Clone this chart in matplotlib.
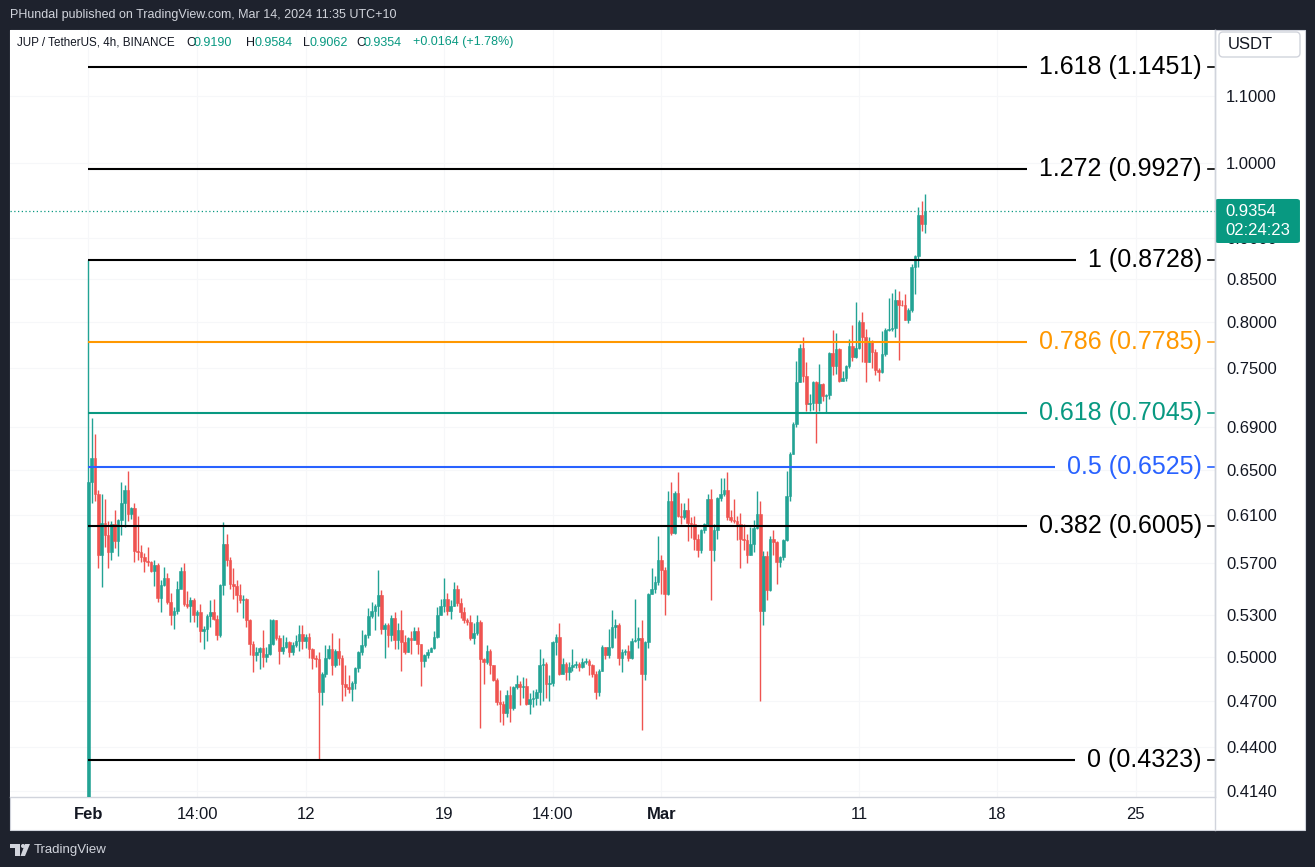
import numpy as np
import matplotlib.pyplot as plt
import matplotlib.transforms as mtransforms
from matplotlib.patches import Rectangle, FancyBboxPatch, Polygon, Circle
from matplotlib.lines import Line2D
from matplotlib.ticker import FixedLocator, NullLocator

plt.rcParams['font.family'] = ['Liberation Sans', 'DejaVu Sans']

# JUP / USDT, 4h candles (Binance); opens follow the previous close
first_open = 0.400
closes = [
    0.639, 0.661, 0.628, 0.577, 0.603, 0.593, 0.579, 0.602, 0.588, 0.606,
    0.620, 0.632, 0.611, 0.616, 0.580, 0.579, 0.575, 0.572, 0.571, 0.564,
    0.569, 0.543, 0.553, 0.558, 0.540, 0.530, 0.533, 0.550, 0.564, 0.538,
    0.537, 0.541, 0.530, 0.532, 0.518, 0.520, 0.529, 0.532, 0.527, 0.515,
    0.553, 0.586, 0.573, 0.554, 0.552, 0.545, 0.541, 0.542, 0.526, 0.509,
    0.501, 0.503, 0.506, 0.500, 0.502, 0.509, 0.526, 0.513, 0.504, 0.507,
    0.510, 0.503, 0.508, 0.511, 0.516, 0.511, 0.514, 0.505, 0.499, 0.498,
    0.476, 0.488, 0.499, 0.505, 0.494, 0.504, 0.499, 0.481, 0.479, 0.478,
    0.482, 0.492, 0.503, 0.508, 0.515, 0.529, 0.533, 0.537, 0.545, 0.520,
    0.523, 0.515, 0.528, 0.512, 0.519, 0.510, 0.503, 0.513, 0.512, 0.518,
    0.509, 0.497, 0.501, 0.503, 0.506, 0.514, 0.530, 0.537, 0.542, 0.533,
    0.537, 0.550, 0.539, 0.532, 0.526, 0.525, 0.513, 0.517, 0.525, 0.498,
    0.496, 0.504, 0.494, 0.484, 0.469, 0.468, 0.462, 0.474, 0.465, 0.479,
    0.481, 0.479, 0.480, 0.468, 0.471, 0.472, 0.476, 0.494, 0.495, 0.481,
    0.482, 0.510, 0.514, 0.488, 0.495, 0.489, 0.493, 0.494, 0.495, 0.493,
    0.496, 0.497, 0.494, 0.488, 0.476, 0.490, 0.507, 0.501, 0.507, 0.521,
    0.523, 0.499, 0.503, 0.504, 0.499, 0.511, 0.512, 0.513, 0.488, 0.510,
    0.546, 0.550, 0.555, 0.573, 0.565, 0.546, 0.622, 0.595, 0.629, 0.609,
    0.608, 0.614, 0.603, 0.602, 0.590, 0.581, 0.597, 0.602, 0.624, 0.581,
    0.597, 0.625, 0.628, 0.632, 0.608, 0.606, 0.605, 0.602, 0.590, 0.589,
    0.577, 0.586, 0.599, 0.611, 0.533, 0.576, 0.549, 0.590, 0.587, 0.571,
    0.575, 0.589, 0.627, 0.665, 0.693, 0.735, 0.772, 0.742, 0.713, 0.714,
    0.735, 0.714, 0.733, 0.721, 0.722, 0.766, 0.752, 0.770, 0.736, 0.740,
    0.752, 0.774, 0.762, 0.772, 0.800, 0.783, 0.756, 0.778, 0.767, 0.748,
    0.746, 0.765, 0.791, 0.792, 0.794, 0.825, 0.820, 0.819, 0.803, 0.814,
    0.864, 0.878, 0.930, 0.919, 0.9354,
]
highs = [
    0.8728, 0.699, 0.684, 0.632, 0.628, 0.624, 0.605, 0.605, 0.614, 0.607,
    0.639, 0.636, 0.649, 0.617, 0.620, 0.609, 0.585, 0.578, 0.583, 0.572,
    0.573, 0.570, 0.557, 0.567, 0.562, 0.547, 0.536, 0.556, 0.567, 0.570,
    0.548, 0.544, 0.543, 0.534, 0.538, 0.522, 0.531, 0.541, 0.542, 0.530,
    0.554, 0.604, 0.594, 0.575, 0.566, 0.557, 0.554, 0.545, 0.543, 0.527,
    0.511, 0.507, 0.507, 0.519, 0.507, 0.527, 0.527, 0.526, 0.515, 0.515,
    0.514, 0.511, 0.510, 0.515, 0.523, 0.523, 0.516, 0.517, 0.506, 0.501,
    0.503, 0.489, 0.508, 0.508, 0.517, 0.505, 0.513, 0.501, 0.494, 0.487,
    0.483, 0.493, 0.504, 0.519, 0.516, 0.535, 0.540, 0.538, 0.565, 0.549,
    0.524, 0.524, 0.530, 0.532, 0.524, 0.534, 0.515, 0.514, 0.518, 0.521,
    0.521, 0.509, 0.502, 0.505, 0.507, 0.518, 0.536, 0.542, 0.558, 0.547,
    0.541, 0.555, 0.553, 0.543, 0.536, 0.528, 0.530, 0.524, 0.530, 0.526,
    0.499, 0.508, 0.505, 0.494, 0.485, 0.477, 0.470, 0.477, 0.480, 0.480,
    0.487, 0.483, 0.486, 0.485, 0.475, 0.477, 0.478, 0.505, 0.499, 0.496,
    0.487, 0.511, 0.516, 0.524, 0.499, 0.496, 0.496, 0.505, 0.497, 0.496,
    0.499, 0.499, 0.498, 0.495, 0.490, 0.491, 0.508, 0.507, 0.520, 0.534,
    0.527, 0.524, 0.505, 0.505, 0.508, 0.513, 0.542, 0.521, 0.526, 0.511,
    0.547, 0.566, 0.560, 0.592, 0.577, 0.567, 0.631, 0.639, 0.631, 0.648,
    0.620, 0.620, 0.625, 0.608, 0.609, 0.594, 0.598, 0.603, 0.628, 0.633,
    0.602, 0.626, 0.643, 0.643, 0.648, 0.614, 0.624, 0.609, 0.612, 0.602,
    0.594, 0.600, 0.606, 0.631, 0.622, 0.580, 0.580, 0.592, 0.597, 0.588,
    0.576, 0.590, 0.649, 0.667, 0.695, 0.757, 0.776, 0.784, 0.756, 0.723,
    0.737, 0.736, 0.754, 0.734, 0.723, 0.767, 0.791, 0.788, 0.772, 0.747,
    0.753, 0.781, 0.797, 0.823, 0.803, 0.812, 0.792, 0.783, 0.780, 0.770,
    0.750, 0.790, 0.793, 0.828, 0.834, 0.838, 0.836, 0.825, 0.832, 0.816,
    0.868, 0.879, 0.941, 0.948, 0.9584,
]
lows = [
    0.380, 0.620, 0.622, 0.566, 0.551, 0.583, 0.566, 0.573, 0.582, 0.576,
    0.593, 0.600, 0.605, 0.607, 0.571, 0.573, 0.571, 0.563, 0.568, 0.563,
    0.552, 0.540, 0.532, 0.552, 0.538, 0.523, 0.520, 0.531, 0.551, 0.537,
    0.535, 0.525, 0.525, 0.521, 0.510, 0.505, 0.511, 0.521, 0.526, 0.512,
    0.514, 0.545, 0.568, 0.550, 0.542, 0.532, 0.539, 0.528, 0.521, 0.501,
    0.489, 0.497, 0.491, 0.493, 0.496, 0.501, 0.508, 0.512, 0.495, 0.502,
    0.506, 0.500, 0.501, 0.507, 0.504, 0.505, 0.506, 0.499, 0.491, 0.493,
    0.4323, 0.467, 0.486, 0.498, 0.487, 0.493, 0.494, 0.470, 0.473, 0.475,
    0.470, 0.478, 0.489, 0.501, 0.507, 0.513, 0.528, 0.519, 0.529, 0.516,
    0.499, 0.507, 0.511, 0.505, 0.505, 0.490, 0.502, 0.503, 0.502, 0.512,
    0.502, 0.480, 0.493, 0.499, 0.503, 0.505, 0.513, 0.530, 0.532, 0.530,
    0.527, 0.537, 0.537, 0.528, 0.524, 0.523, 0.512, 0.509, 0.515, 0.452,
    0.481, 0.495, 0.488, 0.483, 0.467, 0.456, 0.454, 0.459, 0.456, 0.464,
    0.478, 0.467, 0.472, 0.467, 0.461, 0.466, 0.467, 0.467, 0.470, 0.472,
    0.470, 0.480, 0.501, 0.487, 0.488, 0.484, 0.484, 0.490, 0.492, 0.490,
    0.492, 0.495, 0.487, 0.486, 0.471, 0.473, 0.490, 0.498, 0.499, 0.506,
    0.513, 0.494, 0.489, 0.501, 0.497, 0.498, 0.510, 0.506, 0.451, 0.484,
    0.506, 0.546, 0.547, 0.553, 0.546, 0.530, 0.545, 0.593, 0.594, 0.608,
    0.602, 0.607, 0.588, 0.591, 0.581, 0.575, 0.578, 0.595, 0.601, 0.541,
    0.572, 0.590, 0.622, 0.627, 0.606, 0.604, 0.603, 0.589, 0.566, 0.581,
    0.570, 0.577, 0.579, 0.598, 0.470, 0.523, 0.541, 0.548, 0.577, 0.554,
    0.567, 0.573, 0.588, 0.622, 0.665, 0.690, 0.735, 0.735, 0.706, 0.706,
    0.707, 0.675, 0.706, 0.716, 0.704, 0.718, 0.743, 0.744, 0.735, 0.736,
    0.737, 0.750, 0.757, 0.761, 0.770, 0.756, 0.735, 0.756, 0.750, 0.743,
    0.736, 0.745, 0.763, 0.790, 0.790, 0.783, 0.759, 0.818, 0.802, 0.799,
    0.812, 0.832, 0.865, 0.909, 0.9062,
]

fib_ratios = ['0', '0.382', '0.5', '0.618', '0.786', '1', '1.272', '1.618']
fib_prices = [0.4323, 0.6005, 0.6525, 0.7045, 0.7785, 0.8728, 0.9927, 1.1451]
fib_colors = ['#000000', '#000000', '#2962ff', '#089981', '#ff9800',
              '#000000', '#000000', '#000000']

date_ticks = [0, 33, 66, 108, 141, 174, 234, 276, 318]
date_labels = ['Feb', '14:00', '12', '19', '14:00', 'Mar', '11', '18', '25']
price_ticks = [1.1, 1.0, 0.9, 0.85, 0.80, 0.75, 0.69, 0.65, 0.61, 0.57,
               0.53, 0.50, 0.47, 0.44, 0.414]

last_price = 0.9354
countdown = '02:24:23'

UP, DOWN = '#22a394', '#ef5350'
TEAL = '#089981'
TXT = '#131722'

W, H = 1315, 867
fig = plt.figure(figsize=(W / 100, H / 100), dpi=100, facecolor='#1e222d')
px = mtransforms.Affine2D().scale(1 / W, -1 / H).translate(0, 1) + fig.transFigure

# white chart panel
fig.add_artist(Rectangle((10, 30), 1295, 800, transform=px, facecolor='white',
                         edgecolor='#d1d4dc', lw=0.8, zorder=0))

ax = fig.add_axes([10 / W, 1 - 797 / H, 1205 / W, 767 / H])
ax.set_facecolor('white')

opens = np.r_[first_open, closes[:-1]]
closes = np.array(closes)
x = np.arange(len(closes))
up = closes >= opens
cols = np.where(up, UP, DOWN)

ax.vlines(x, lows, highs, colors=cols, lw=1.0, zorder=3)
ax.bar(x, np.abs(closes - opens), bottom=np.minimum(opens, closes), width=0.8,
       color=cols, edgecolor=cols, linewidth=0.4, zorder=4)

ax.set_yscale('log')
ax.set_ylim(0.4104, 1.2063)
ax.set_xlim(-23.8, 342.1)

ax.yaxis.set_major_locator(FixedLocator(price_ticks))
ax.yaxis.set_minor_locator(NullLocator())
ax.set_yticklabels([f'{v:.4f}' for v in price_ticks])
ax.yaxis.tick_right()
ax.tick_params(axis='y', length=0, pad=8, labelsize=12, labelcolor=TXT)

ax.set_xticks(date_ticks)
ax.set_xticklabels(date_labels)
ax.tick_params(axis='x', length=0, pad=7.5, labelsize=12, labelcolor=TXT)
for lab in ax.get_xticklabels():
    if lab.get_text() in ('Feb', 'Mar'):
        lab.set_fontweight('bold')

ax.grid(True, color='#f6f7f9', lw=0.8, zorder=0)
ax.set_axisbelow(True)
for s in ('top', 'left'):
    ax.spines[s].set_visible(False)
for s in ('right', 'bottom'):
    ax.spines[s].set_color('#d1d4dc')
    ax.spines[s].set_linewidth(1)

# current price line
ax.axhline(last_price, color=TEAL, lw=0.9, ls=(0, (1, 2)), zorder=2)

# fib labels, then lines that stop before the labels
bt = mtransforms.blended_transform_factory(ax.transAxes, ax.transData)
labels = []
for r, p, c in zip(fib_ratios, fib_prices, fib_colors):
    t = ax.text(0.9892, p, f'{r} ({p:.4f})', transform=bt, ha='right',
                va='center', fontsize=18, color=c, zorder=6)
    labels.append(t)
    ax.plot([0.9942, 0.9992], [p, p], transform=bt, color=c, lw=1.2,
            clip_on=False, zorder=6)

fig.canvas.draw()
inv = ax.transData.inverted()
for t, p, c in zip(labels, fib_prices, fib_colors):
    bb = t.get_window_extent()
    xend = inv.transform((bb.x0 - 12, 0))[0]
    ax.hlines(p, 0, xend, color=c, lw=1.5, zorder=5)

# last price tag on the scale
ax.add_patch(FancyBboxPatch((1.0, 0.7223), 0.0705, 0.0574, transform=ax.transAxes,
                            boxstyle='round,pad=0,rounding_size=0.003',
                            facecolor=TEAL, edgecolor='none', clip_on=False, zorder=10))
ax.text(1.0083, 0.764, f'{last_price:.4f}', transform=ax.transAxes, ha='left',
        va='center', fontsize=12, color='white', zorder=11)
ax.text(1.0083, 0.738, countdown, transform=ax.transAxes, ha='left',
        va='center', fontsize=12, color='white', zorder=11)

# scale separator and currency box
fig.add_artist(Line2D([1215, 1215], [30, 830], transform=px, color='#d1d4dc', lw=1))
fig.add_artist(FancyBboxPatch((1219, 32), 81, 25, transform=px,
                              boxstyle='round,pad=0,rounding_size=4',
                              facecolor='white', edgecolor='#d1d4dc', lw=1))
fig.text(1228, 44.5, 'USDT', transform=px, ha='left', va='center',
         fontsize=12, color=TXT)

# legend line at the top of the chart
hdr = [('JUP / TetherUS, 4h, BINANCE', 17, TXT, 8.4), ('O', 186, TXT, 9),
       ('0.9190', 194, TEAL, 9), ('H', 246, TXT, 9), ('0.9584', 255, TEAL, 9),
       ('L', 303, TXT, 9), ('0.9062', 310, TEAL, 9), ('C', 356, TXT, 9),
       ('0.9354', 364, TEAL, 9), ('+0.0164 (+1.78%)', 413, TEAL, 9)]
for s, xx, c, fs in hdr:
    fig.text(xx, 42.5, s, transform=px, ha='left', va='center', fontsize=fs, color=c)

fig.text(10, 15, 'PHundal published on TradingView.com, Mar 14, 2024 11:35 UTC+10',
         transform=px, ha='left', va='center', fontsize=9, color='#d1d4dc')

# TradingView footer mark
fig.add_artist(Polygon([[10, 844], [20, 844], [20, 856], [15, 856], [15, 848], [10, 848]],
                       closed=True, transform=px, facecolor='#d1d4dc', edgecolor='none'))
fig.add_artist(Circle((23, 846), 2, transform=px, facecolor='#d1d4dc', edgecolor='none'))
fig.add_artist(Polygon([[25, 844], [30, 844], [25, 856], [20.5, 856]], closed=True,
                       transform=px, facecolor='#d1d4dc', edgecolor='none'))
fig.text(34, 850, 'TradingView', transform=px, ha='left', va='center',
         fontsize=9.5, color='#d1d4dc')

fig.savefig('out.png', dpi=100, facecolor=fig.get_facecolor())
